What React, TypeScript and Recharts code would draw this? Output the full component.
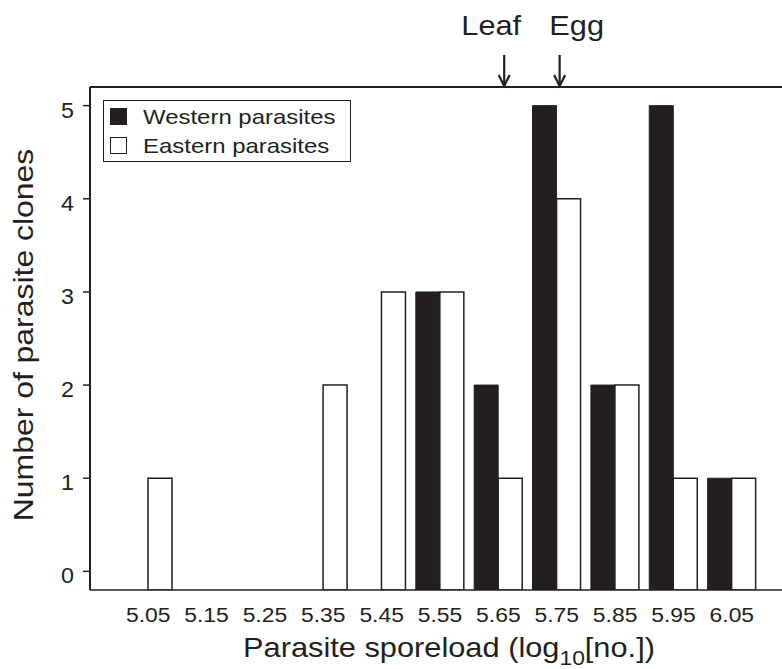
import { BarChart, Bar, XAxis, YAxis, Legend, ReferenceLine, Customized } from 'recharts';

// sporeload classes (log10 of spore count), one bar pair per class
const sporeload = ['5.05', '5.15', '5.25', '5.35', '5.45', '5.55', '5.65', '5.75', '5.85', '5.95', '6.05'];
const western = [0, 0, 0, 0, 0, 3, 2, 5, 2, 5, 1];
const eastern = [1, 0, 0, 2, 3, 3, 1, 4, 2, 1, 1];
const yTicks = [0, 1, 2, 3, 4, 5];
const seriesNames = ['Western parasites', 'Eastern parasites'];

// arrows above the plot
const markerLabels = ['Leaf', 'Egg'];
const markerAt = [5.66, 5.755];

const INK = '#231f20';
const FONT = '"Liberation Sans", Arial, Helvetica, sans-serif';
const STRETCH = 1.14; // the original lettering is a little wider than Arial
const BASE = -0.2;

const W = 782;
const H = 669;
const PLOT_LEFT = 90;
const PLOT_TOP = 87;
const PLOT_BOTTOM = 590;
const PAD_L = 29;
const PAD_R = 21;

const rows = sporeload.map((load, i) => ({ load, western: western[i], eastern: eastern[i] }));

const range = (v: number) => (v > 0 ? [BASE, v] : [BASE, BASE]);

// same layout as the category axis: band centre for a given sporeload value
const band = (W - PLOT_LEFT - PAD_L - PAD_R) / sporeload.length;
const xOf = (v: number) => PLOT_LEFT + PAD_L + band / 2 + ((v - 5.05) / 0.1) * band;
const labelShift = [-13, 17];

function Wide({ x, y, size, anchor = 'middle', rotate = 0, stretch = STRETCH, children }: any) {
  return (
    <g transform={`translate(${x},${y}) rotate(${rotate}) scale(${stretch},1)`}>
      <text x={0} y={0} fontSize={size} textAnchor={anchor} fill={INK} fontFamily={FONT}>
        {children}
      </text>
    </g>
  );
}

function XTick(props: any) {
  const { x, y, payload } = props;
  return (
    <Wide x={x} y={y + 16} size={21} stretch={1.09}>
      {payload.value}
    </Wide>
  );
}

function YTick(props: any) {
  const { x, y, payload } = props;
  return (
    <Wide x={x} y={y + 12} size={22} anchor="end" stretch={1.06}>
      {payload.value}
    </Wide>
  );
}

function Annotations() {
  return (
    <g>
      {markerLabels.map((label, i) => {
        const x = xOf(markerAt[i]);
        return (
          <g key={label}>
            <Wide x={x + labelShift[i]} y={35} size={27}>
              {label}
            </Wide>
            <line x1={x} y1={55} x2={x} y2={PLOT_TOP - 1} stroke={INK} strokeWidth={2.2} />
            <path
              d={`M${x - 5.5},${PLOT_TOP - 12} L${x},${PLOT_TOP - 1} L${x + 5.5},${PLOT_TOP - 12}`}
              fill="none"
              stroke={INK}
              strokeWidth={2.2}
            />
          </g>
        );
      })}
      <Wide x={33} y={335} size={28} rotate={-90}>
        Number of parasite clones
      </Wide>
      <Wide x={449} y={657} size={27}>
        Parasite sporeload (log
        <tspan fontSize={20} dy={8}>10</tspan>
        <tspan dy={-8}>[no.])</tspan>
      </Wide>
    </g>
  );
}

function LegendBox(props: any) {
  const items = [...(props.payload || [])].sort(
    (a: any, b: any) => seriesNames.indexOf(a.value) - seriesNames.indexOf(b.value)
  );
  return (
    <div
      style={{
        border: `1.5px solid ${INK}`,
        background: '#fff',
        padding: '1px 5px 1px 6px',
        fontFamily: FONT,
        fontSize: 21,
        color: INK,
        lineHeight: '29px',
        textAlign: 'left',
      }}
    >
      {items.map((it: any) => (
        <div key={it.value} style={{ display: 'flex', alignItems: 'center', whiteSpace: 'nowrap' }}>
          <span
            style={{
              display: 'inline-block',
              width: 15,
              height: 15,
              background: it.value === seriesNames[0] ? INK : '#fff',
              border: `1.5px solid ${INK}`,
              marginRight: 16,
            }}
          />
          <span style={{ display: 'inline-block', transform: `scaleX(${STRETCH})`, transformOrigin: 'left center' }}>
            {it.value}
          </span>
        </div>
      ))}
    </div>
  );
}

export default function App() {
  return (
    <div style={{ position: 'absolute', left: 0, top: 0, background: '#fff' }}>
      <BarChart
        width={W}
        height={H}
        data={rows}
        margin={{ top: PLOT_TOP, right: 0, bottom: 0, left: 0 }}
        barGap={0}
        barSize={24}
      >
        <XAxis
          dataKey="load"
          type="category"
          interval={0}
          height={H - PLOT_BOTTOM}
          padding={{ left: PAD_L, right: PAD_R }}
          tickLine={false}
          tickSize={0}
          tickMargin={16}
          axisLine={{ stroke: INK, strokeWidth: 1.5 }}
          tick={<XTick />}
        />
        <YAxis
          type="number"
          domain={[BASE, 5.2]}
          ticks={yTicks}
          allowDataOverflow
          width={PLOT_LEFT}
          tickSize={7}
          tickMargin={9}
          axisLine={{ stroke: INK, strokeWidth: 2 }}
          tickLine={{ stroke: INK, strokeWidth: 1.5 }}
          tick={<YTick />}
        />
        <ReferenceLine y={5.2} stroke={INK} strokeWidth={2} />
        <Legend
          layout="vertical"
          align="center"
          verticalAlign="middle"
          content={<LegendBox />}
          wrapperStyle={{ left: 103, top: 100, width: 248 }}
        />
        <Bar
          dataKey={(d: any) => range(d.western)}
          name={seriesNames[0]}
          fill={INK}
          stroke={INK}
          strokeWidth={1}
          isAnimationActive={false}
        />
        <Bar
          dataKey={(d: any) => range(d.eastern)}
          name={seriesNames[1]}
          fill="#ffffff"
          stroke={INK}
          strokeWidth={1.5}
          isAnimationActive={false}
        />
        <Customized component={Annotations} />
      </BarChart>
    </div>
  );
}
